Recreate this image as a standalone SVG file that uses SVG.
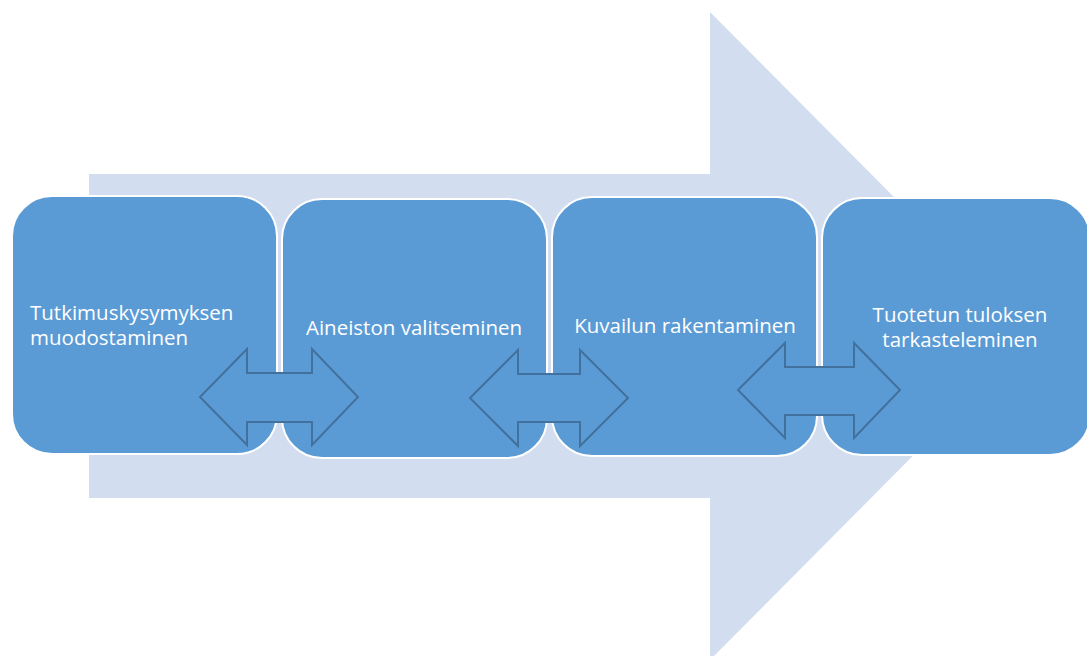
<svg xmlns="http://www.w3.org/2000/svg" width="1087" height="656" viewBox="0 0 1087 656">
<style>
.bg{fill:#D2DEEF}
.box{fill:#5B9BD5;stroke:#FFFFFF;stroke-width:2}
.dbl{fill:#5B9BD5;stroke:#41719C;stroke-width:2;stroke-linejoin:miter}
.lbl{fill:#FFFFFF;font-family:"Open Sans","Liberation Sans",sans-serif;font-size:20.5px}
</style>
<rect width="1087" height="656" fill="#FFFFFF"/>
<g id="background-arrow">
<polygon class="bg" points="89,174 710,174 710,12 1032,336 710,660 710,498 89,498"/>
</g>
<g id="node1">
<rect class="box" x="12" y="196" width="265" height="258" rx="40" ry="40"/>
<text class="lbl" x="30" y="320">Tutkimuskysymyksen</text>
<text class="lbl" x="30" y="345">muodostaminen</text>
</g>
<g id="node2">
<rect class="box" x="282" y="199" width="265" height="259" rx="40" ry="40"/>
<text class="lbl" x="414" y="335" text-anchor="middle">Aineiston valitseminen</text>
</g>
<g id="node3">
<rect class="box" x="552" y="197" width="265" height="259" rx="40" ry="40"/>
<text class="lbl" x="685" y="333" text-anchor="middle">Kuvailun rakentaminen</text>
</g>
<g id="node4">
<rect class="box" x="822" y="198" width="268" height="257" rx="40" ry="40"/>
<text class="lbl" x="960" y="322" text-anchor="middle">Tuotetun tuloksen</text>
<text class="lbl" x="960" y="347" text-anchor="middle">tarkasteleminen</text>
</g>
<g id="connectors">
<polygon class="dbl" points="200,397 247,349 247,373 312,373 312,349 358,397 312,445 312,422 247,422 247,445"/>
<polygon class="dbl" points="470,398 518,350 518,374 580,374 580,350 628,398 580,446 580,422 518,422 518,446"/>
<polygon class="dbl" points="738,390 785,343 785,367 854,367 854,343 900,390 854,438 854,415 785,415 785,438"/>
</g>
</svg>
